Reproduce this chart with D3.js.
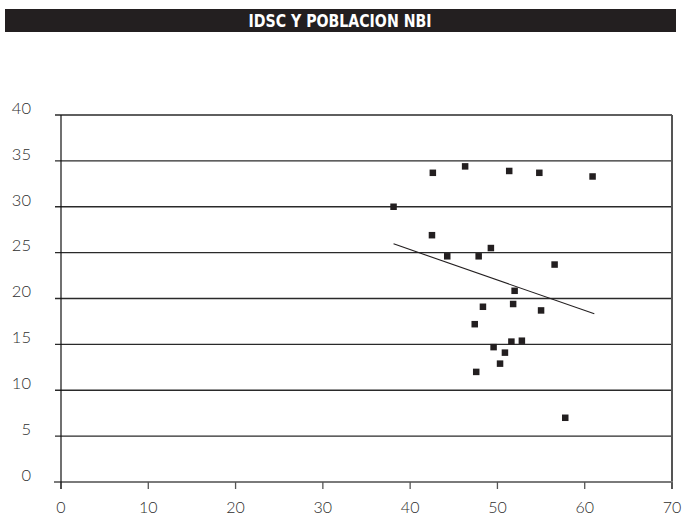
<!DOCTYPE html>
<html>
<head>
<meta charset="utf-8">
<script src="https://cdn.jsdelivr.net/npm/d3@7"></script>
<style>
  html, body { margin: 0; padding: 0; background: #ffffff; }
  svg { display: block; }
</style>
</head>
<body>
<script>
// ---- data ----
const title = "IDSC Y POBLACION NBI";
const xValues = [42.6, 46.3, 51.35, 54.8, 60.9, 38.1, 42.5, 44.25, 47.85, 49.25, 56.55, 51.97, 48.34, 51.8, 55.0, 47.4, 51.6, 52.8, 49.56, 50.86, 50.3, 47.57, 57.77];
const yValues = [33.7, 34.4, 33.9, 33.7, 33.3, 30.0, 26.9, 24.6, 24.6, 25.5, 23.7, 20.84, 19.1, 19.4, 18.7, 17.2, 15.3, 15.4, 14.7, 14.1, 12.9, 12.0, 7.0];
const trendX = [38.1, 61.1];
const trendY = [25.96, 18.33];
const xTicks = [0, 10, 20, 30, 40, 50, 60, 70];
const yTicks = [0, 5, 10, 15, 20, 25, 30, 35, 40];

// ---- layout ----
const W = 688, H = 516;
const svg = d3.select("body").append("svg").attr("width", W).attr("height", H);

const x = d3.scaleLinear().domain([0, 70]).range([61, 672]);
const y = d3.scaleLinear().domain([0, 40]).range([482, 115]);

// title bar
svg.append("rect").attr("x", 5).attr("y", 9).attr("width", 671).attr("height", 23).attr("fill", "#231f20");
svg.append("text")
  .attr("x", 340).attr("y", 27)
  .attr("text-anchor", "middle")
  .attr("fill", "#ffffff")
  .attr("font-family", "'Liberation Sans Narrow', 'DejaVu Sans Condensed', 'Roboto Condensed', 'Arial Narrow', sans-serif")
  .attr("font-weight", "bold")
  .attr("font-size", 17)
  .attr("textLength", 183)
  .attr("lengthAdjust", "spacingAndGlyphs")
  .text(title);

// gridlines (excluding 0)
svg.append("g").selectAll("line").data(yTicks.filter(d => d > 0)).join("line")
  .attr("x1", 55).attr("x2", 672)
  .attr("y1", d => y(d)).attr("y2", d => y(d))
  .attr("stroke", "#2a2a2a").attr("stroke-width", 1.3);

// right border
svg.append("line").attr("x1", 672).attr("x2", 672).attr("y1", y(40)).attr("y2", 489)
  .attr("stroke", "#555").attr("stroke-width", 2);

// x axis line
svg.append("line").attr("x1", 54).attr("x2", 673).attr("y1", y(0)).attr("y2", y(0))
  .attr("stroke", "#7a7a7a").attr("stroke-width", 2);

// x ticks
svg.append("g").selectAll("line").data(xTicks).join("line")
  .attr("x1", d => x(d)).attr("x2", d => x(d))
  .attr("y1", y(0)).attr("y2", 489)
  .attr("stroke", "#555").attr("stroke-width", d => d === 0 ? 1 : 1.3);

// y axis line
svg.append("line").attr("x1", x(0)).attr("x2", x(0)).attr("y1", y(40)).attr("y2", 489)
  .attr("stroke", "#111").attr("stroke-width", 1.2);

const labelFont = "'Lato', 'Open Sans', 'DejaVu Sans', sans-serif";

// y labels
svg.append("g").selectAll("text").data(yTicks).join("text")
  .attr("x", 31).attr("y", d => y(d) - 7)
  .attr("dy", "0.35em")
  .attr("text-anchor", "end")
  .attr("font-family", labelFont).attr("font-weight", 300)
  .attr("font-size", 16.5).attr("fill", "#2e2e2e")
  .text(d => d);

// x labels
svg.append("g").selectAll("text").data(xTicks).join("text")
  .attr("x", d => x(d)).attr("y", 513)
  .attr("text-anchor", "middle")
  .attr("font-family", labelFont).attr("font-weight", 300)
  .attr("font-size", 16).attr("fill", "#2e2e2e")
  .text(d => d);

// trend line
svg.append("line")
  .attr("x1", x(trendX[0])).attr("y1", y(trendY[0]))
  .attr("x2", x(trendX[1])).attr("y2", y(trendY[1]))
  .attr("stroke", "#231f20").attr("stroke-width", 1.1);

// points
const S = 6.5;
svg.append("g").selectAll("rect").data(xValues.map((d, i) => [d, yValues[i]])).join("rect")
  .attr("x", d => x(d[0]) - S / 2).attr("y", d => y(d[1]) - S / 2)
  .attr("width", S).attr("height", S)
  .attr("fill", "#231f20");
</script>
</body>
</html>
